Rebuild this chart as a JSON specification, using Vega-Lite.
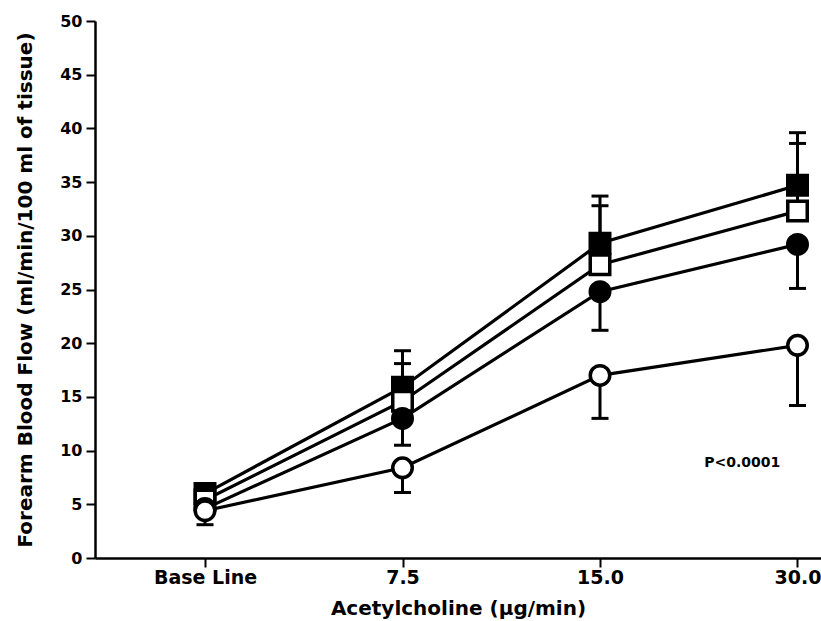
{
  "$schema": "https://vega.github.io/schema/vega-lite/v6.json",
  "width": 726,
  "height": 537,
  "autosize": {"type": "none"},
  "padding": {"left": 95, "top": 21, "right": 0, "bottom": 63},
  "background": "white",
  "config": {
    "view": {"stroke": null},
    "font": "DejaVu Sans",
    "axis": {"domainColor": "black", "tickColor": "black", "labelColor": "black", "titleColor": "black", "grid": false, "labelFont": "DejaVu Sans", "titleFont": "DejaVu Sans", "labelFontWeight": "bold", "titleFontWeight": "bold", "domainWidth": 2.5, "tickWidth": 2, "tickSize": 9}
  },
  "datasets": {
    "means": [
      {"series": "A", "pos": 0, "label": "Base Line", "value": 6.0},
      {"series": "A", "pos": 1, "label": "7.5", "value": 15.9},
      {"series": "A", "pos": 2, "label": "15.0", "value": 29.3},
      {"series": "A", "pos": 3, "label": "30.0", "value": 34.7},
      {"series": "B", "pos": 0, "label": "Base Line", "value": 5.4},
      {"series": "B", "pos": 1, "label": "7.5", "value": 14.6},
      {"series": "B", "pos": 2, "label": "15.0", "value": 27.3},
      {"series": "B", "pos": 3, "label": "30.0", "value": 32.3},
      {"series": "C", "pos": 0, "label": "Base Line", "value": 4.6},
      {"series": "C", "pos": 1, "label": "7.5", "value": 13.0},
      {"series": "C", "pos": 2, "label": "15.0", "value": 24.8},
      {"series": "C", "pos": 3, "label": "30.0", "value": 29.2},
      {"series": "D", "pos": 0, "label": "Base Line", "value": 4.4},
      {"series": "D", "pos": 1, "label": "7.5", "value": 8.4},
      {"series": "D", "pos": 2, "label": "15.0", "value": 17.0},
      {"series": "D", "pos": 3, "label": "30.0", "value": 19.8}
    ],
    "errors": [
      {"series": "A", "pos": 1, "value": 15.9, "cap": 19.3},
      {"series": "A", "pos": 2, "value": 29.3, "cap": 33.7},
      {"series": "A", "pos": 3, "value": 34.7, "cap": 39.6},
      {"series": "B", "pos": 1, "value": 14.6, "cap": 18.1},
      {"series": "B", "pos": 2, "value": 27.3, "cap": 32.8},
      {"series": "B", "pos": 3, "value": 32.3, "cap": 38.6},
      {"series": "C", "pos": 1, "value": 13.0, "cap": 10.5},
      {"series": "C", "pos": 2, "value": 24.8, "cap": 21.2},
      {"series": "C", "pos": 3, "value": 29.2, "cap": 25.1},
      {"series": "D", "pos": 0, "value": 4.4, "cap": 3.1},
      {"series": "D", "pos": 1, "value": 8.4, "cap": 6.1},
      {"series": "D", "pos": 2, "value": 17.0, "cap": 13.0},
      {"series": "D", "pos": 3, "value": 19.8, "cap": 14.2}
    ],
    "notes": [
      {"pos": 2.72, "value": 8.8, "text": "P<0.0001"}
    ]
  },
  "layer": [
    {
      "data": {"name": "means"},
      "mark": {"type": "line", "color": "black", "strokeWidth": 3.2},
      "encoding": {
        "x": {
          "field": "pos", "type": "quantitative",
          "scale": {"domain": [-0.557, 3.119], "nice": false, "zero": false},
          "axis": {
            "values": [0, 1, 2, 3],
            "labelExpr": "['Base Line','7.5','15.0','30.0'][datum.value]",
            "title": "Acetylcholine (μg/min)",
            "titleFontSize": 20,
            "titlePadding": 11,
            "labelFontSize": 19,
            "labelPadding": 1
          }
        },
        "y": {
          "field": "value", "type": "quantitative",
          "scale": {"domain": [0, 50], "nice": false},
          "axis": {
            "values": [0, 5, 10, 15, 20, 25, 30, 35, 40, 45, 50],
            "title": "Forearm Blood Flow (ml/min/100 ml of tissue)",
            "titleFontSize": 20,
            "titlePadding": 24,
            "labelFontSize": 16,
            "labelPadding": 4
          }
        },
        "detail": {"field": "series"}
      }
    },
    {
      "data": {"name": "errors"},
      "mark": {"type": "rule", "color": "black", "strokeWidth": 3},
      "encoding": {
        "x": {"field": "pos", "type": "quantitative"},
        "y": {"field": "value", "type": "quantitative"},
        "y2": {"field": "cap"}
      }
    },
    {
      "data": {"name": "errors"},
      "mark": {"type": "tick", "color": "black", "opacity": 1, "orient": "horizontal", "thickness": 3, "size": 17},
      "encoding": {
        "x": {"field": "pos", "type": "quantitative"},
        "y": {"field": "cap", "type": "quantitative"}
      }
    },
    {
      "data": {"name": "means"},
      "mark": {"type": "point", "filled": false, "stroke": "black", "strokeWidth": 3.5, "opacity": 1},
      "encoding": {
        "x": {"field": "pos", "type": "quantitative"},
        "y": {"field": "value", "type": "quantitative"},
        "shape": {"field": "series", "type": "nominal", "scale": {"domain": ["A", "B", "C", "D"], "range": ["square", "square", "circle", "circle"]}, "legend": null},
        "fill": {"field": "series", "type": "nominal", "scale": {"domain": ["A", "B", "C", "D"], "range": ["black", "white", "black", "white"]}, "legend": null},
        "size": {"value": 380}
      }
    },
    {
      "data": {"name": "notes"},
      "mark": {"type": "text", "font": "DejaVu Sans", "fontSize": 14, "fontWeight": "bold", "color": "black", "align": "center", "baseline": "middle"},
      "encoding": {
        "x": {"field": "pos", "type": "quantitative"},
        "y": {"field": "value", "type": "quantitative"},
        "text": {"field": "text"}
      }
    }
  ]
}
